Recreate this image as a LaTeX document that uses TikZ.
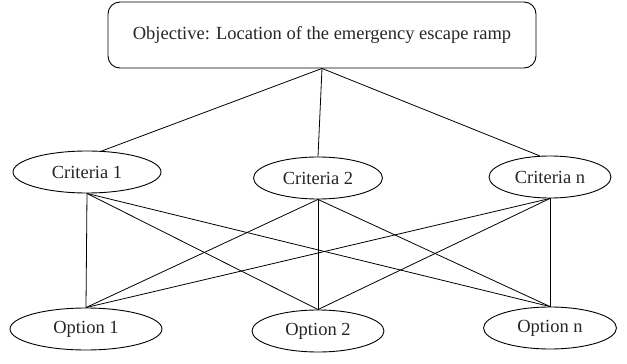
\documentclass[tikz,border=0pt]{standalone}
\usepackage{fontspec}
\setmainfont{Liberation Serif}
\usetikzlibrary{shapes.geometric}
\begin{document}
\begin{tikzpicture}[x=1pt,y=-1pt,
  every node/.style={font=\fontsize{18.5}{21}\selectfont, text=black!85},
  objbox/.style={draw, rounded corners=12pt, line width=0.9pt, minimum width=428pt, minimum height=66pt, inner sep=0pt},
  oval/.style={draw, ellipse, line width=0.9pt, minimum height=42pt, inner sep=0pt},
  link/.style={line width=0.8pt}]
\useasboundingbox (0,0) rectangle (627,364);
\node[objbox] (obj) at (322,35) {Objective: Location of the emergency escape ramp};
\node[oval, minimum width=148pt] (c1) at (87,172) {Criteria 1};
\node[oval, minimum width=129pt] (c2) at (318,178) {Criteria 2};
\node[oval, minimum width=122pt] (cn) at (550,177) {Criteria n};
\node[oval, minimum width=152pt] (o1) at (86,329) {Option 1};
\node[oval, minimum width=132pt] (o2) at (318,331) {Option 2};
\node[oval, minimum width=133pt] (on) at (550,328) {Option n};
\draw[link] (obj.south) -- (c1.55);
\draw[link] (obj.south) -- (c2.north);
\draw[link] (obj.south) -- (cn.116);
\foreach \c in {c1,c2,cn}{
  \foreach \o in {o1,o2,on}{
    \draw[link] (\c.south) -- (\o.north);
  }
}
\end{tikzpicture}
\end{document}
